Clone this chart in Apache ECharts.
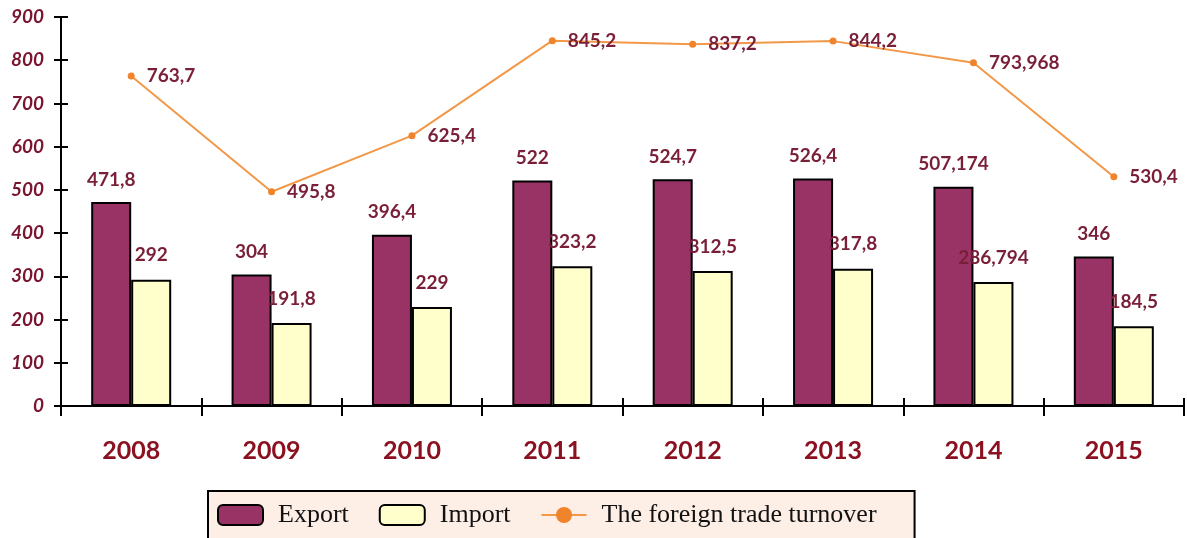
<!DOCTYPE html>
<html>
<head>
<meta charset="utf-8">
<script src="https://cdn.jsdelivr.net/npm/echarts@6/dist/echarts.min.js"></script>
<style>html,body{margin:0;padding:0;background:#fff;}#c{width:1187px;height:538px;}</style>
</head>
<body>
<div id="c"></div>
<script>
var years = ['2008','2009','2010','2011','2012','2013','2014','2015'];
var exportVals = [471.8, 304, 396.4, 522, 524.7, 526.4, 507.174, 346];
var importVals = [292, 191.8, 229, 323.2, 312.5, 317.8, 286.794, 184.5];
var turnoverVals = [763.7, 495.8, 625.4, 845.2, 837.2, 844.2, 793.968, 530.4];
var yTicks = {min:0, max:900, interval:100};

function fmt(v){ return String(v).replace('.', ','); }

var lblColor = '#7a1f38';
function lbl(pos, dist){
  return {show:true, position:pos, distance:dist, formatter:function(p){return fmt(p.value);},
          fontFamily:'Lato', fontWeight:'bold', fontSize:19, color:lblColor};
}
var W = 1187, H = 538;
var gridBox = {left:61, right:3, top:17, bottom:132};
var gridW = W - gridBox.left - gridBox.right;
var gridH = H - gridBox.top - gridBox.bottom;

var chart = echarts.init(document.getElementById('c'));
chart.setOption({
  animation:false,
  backgroundColor:'#ffffff',
  grid:gridBox,
  legend:{
    left:208, top:491,
    backgroundColor:'#fdeee6',
    borderColor:'#000', borderWidth:2,
    padding:[11,38,11,9],
    itemWidth:45, itemHeight:20, itemGap:30,
    textStyle:{fontFamily:'Liberation Serif', fontSize:26, color:'#111', padding:[0,0,0,10]},
    data:[
      {name:'Export', itemStyle:{color:'#993366', borderColor:'#000', borderWidth:2}},
      {name:'Import', itemStyle:{color:'#ffffcc', borderColor:'#000', borderWidth:2}},
      {name:'The foreign trade turnover'}
    ]
  },
  xAxis:[{
    type:'category', data:years, position:'bottom',
    axisLine:{lineStyle:{color:'#000', width:2}},
    axisTick:{show:true, length:10, lineStyle:{color:'#000', width:2}},
    axisLabel:{margin:32, fontFamily:'Lato', fontWeight:'bold', fontSize:25, color:'#8b1020'}
  },{
    type:'category', data:years, position:'top', offset:-gridH,
    axisLine:{show:true, lineStyle:{color:'#000', width:2}},
    axisTick:{show:true, length:8, lineStyle:{color:'#000', width:2}},
    axisLabel:{show:false}
  }],
  yAxis:[{
    type:'value', min:yTicks.min, max:yTicks.max, interval:yTicks.interval, position:'left',
    splitLine:{show:false},
    axisLine:{show:true, lineStyle:{color:'#000', width:2}},
    axisTick:{show:true, length:7, lineStyle:{color:'#000', width:2}},
    axisLabel:{margin:17, fontFamily:'Lato', fontWeight:'bold', fontStyle:'italic', fontSize:19, color:'#7a1530'}
  },{
    type:'value', min:yTicks.min, max:yTicks.max, interval:yTicks.interval, position:'right', offset:-gridW,
    splitLine:{show:false},
    axisLine:{show:true, lineStyle:{color:'#000', width:2}},
    axisTick:{show:true, length:7, lineStyle:{color:'#000', width:2}},
    axisLabel:{show:false}
  }],
  series:[{
    name:'Export', type:'bar', data:exportVals, barWidth:40, barGap:'0%',
    itemStyle:{color:'#993366', borderColor:'#000', borderWidth:2},
    label:lbl('top', 13)
  },{
    name:'Import', type:'bar', data:importVals, barWidth:40, barGap:'0%',
    itemStyle:{color:'#ffffcc', borderColor:'#000', borderWidth:2},
    label:lbl('top', 15)
  },{
    name:'The foreign trade turnover', type:'line', data:turnoverVals,
    xAxisIndex:1, yAxisIndex:1,
    symbol:'circle', symbolSize:7,
    itemStyle:{color:'#f0842c'},
    lineStyle:{color:'#f29848', width:2},
    label:lbl('right', 12)
  }]
});
</script>
</body>
</html>
